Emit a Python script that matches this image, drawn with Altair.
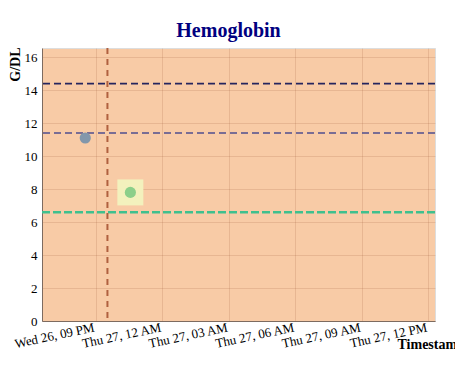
import altair as alt
import pandas as pd

# ---- data ----
point_times = ["2024-06-26T20:32:00Z", "2024-06-26T22:34:00Z"]
point_values = [11.1, 7.8]
point_colors = ["#8297ab", "#8ccf8a"]

highlight_times = ["2024-06-26T22:34:00Z"]
highlight_values = [7.8]

ref_values = [14.4, 11.4, 6.6]
ref_colors = ["#25255e", "#4f4f8f", "#3fc08e"]
ref_widths = [1.6, 1.6, 2.6]
ref_dashes = [[7, 4], [7, 4], [8, 3]]

event_times = ["2024-06-26T21:32:00Z"]

x_ticks = ["2024-06-26T21:00:00Z", "2024-06-27T00:00:00Z", "2024-06-27T03:00:00Z",
           "2024-06-27T06:00:00Z", "2024-06-27T09:00:00Z", "2024-06-27T12:00:00Z"]
x_domain = ["2024-06-26T18:35:00Z", "2024-06-27T12:18:00Z"]
y_ticks = [0, 2, 4, 6, 8, 10, 12, 14, 16]
y_domain = [0, 16.56]


def ms(s):
    return int(pd.Timestamp(s).value // 10**6)


xdom = [ms(s) for s in x_domain]
xticks = [ms(s) for s in x_ticks]

points_df = pd.DataFrame({"t": point_times, "v": point_values, "c": point_colors})
hl_df = pd.DataFrame({"t": highlight_times, "v": highlight_values})
ev_df = pd.DataFrame({"t": event_times})

x_scale = alt.Scale(type="utc", domain=xdom, nice=False)
y_scale = alt.Scale(domain=y_domain, nice=False, zero=True)

x_axis = alt.Axis(
    title="Timestamp",
    values=xticks,
    labelExpr="utcFormat(datum.value, '%a %d, %I %p')",
    labelAngle=-12,
    labelAlign="right",
    labelBaseline="top",
    labelPadding=0,
    labelOffset=-3,
    labelOverlap=False,
    labelFlush=False,
    labelBound=False,
    ticks=False,
    titleFontSize=14,
    titleAnchor="start",
    titleAlign="left",
    titleBaseline="alphabetic",
    titleX=355,
    titleY=27,
)
y_axis = alt.Axis(
    title="G/DL",
    values=y_ticks,
    tickCount=9,
    ticks=False,
    labelPadding=5,
    labelOverlap=False,
    labelFlush=False,
    titleFontSize=14,
    titleAngle=-90,
    titleAlign="right",
    titleBaseline="alphabetic",
    titleX=-23,
    titleY=-1,
)


def X():
    return alt.X("t:T", scale=x_scale, axis=x_axis)


def Y():
    return alt.Y("v:Q", scale=y_scale, axis=y_axis)


layers = []

# invisible layer carrying the axes and grid
layers.append(alt.Chart(points_df).mark_point(opacity=0).encode(x=X(), y=Y()))

# horizontal reference lines
for val, col, w, d in zip(ref_values, ref_colors, ref_widths, ref_dashes):
    layers.append(
        alt.Chart(pd.DataFrame({"v": [val]}))
        .mark_rule(color=col, strokeWidth=w, strokeDash=d)
        .encode(y=Y())
    )

# vertical event line
layers.append(
    alt.Chart(ev_df)
    .mark_rule(color="#b0603f", strokeWidth=2, strokeDash=[6, 5])
    .encode(x=X())
)

# highlight square
layers.append(
    alt.Chart(hl_df)
    .mark_square(size=676, color="#f3f1bd", opacity=1)
    .encode(x=X(), y=Y())
)

# points
layers.append(
    alt.Chart(points_df)
    .mark_circle(size=125, opacity=1)
    .encode(x=X(), y=Y(), color=alt.Color("c:N", scale=None))
)

chart = (
    alt.layer(*layers)
    .properties(
        width=393,
        height=273,
        title=alt.TitleParams(
            "Hemoglobin",
            font="Liberation Serif",
            fontSize=20,
            fontWeight="bold",
            color="#000080",
            anchor="middle",
            offset=6,
            dx=-10,
        ),
        autosize=alt.AutoSizeParams(type="none"),
        padding={"left": 34, "top": 40, "right": 20, "bottom": 35},
    )
    .configure_view(fill="#f8cba6", stroke="#dddddd")
    .configure_axis(
        labelFont="Liberation Serif",
        labelFontSize=13,
        labelColor="#000000",
        titleFont="Liberation Serif",
        titleFontWeight="bold",
        titleColor="#000000",
        gridColor="#9c5a36",
        gridOpacity=0.18,
        domainColor="#7d6b60",
    )
)

chart.save("out.html", embed_options={"renderer": "svg", "actions": False})
